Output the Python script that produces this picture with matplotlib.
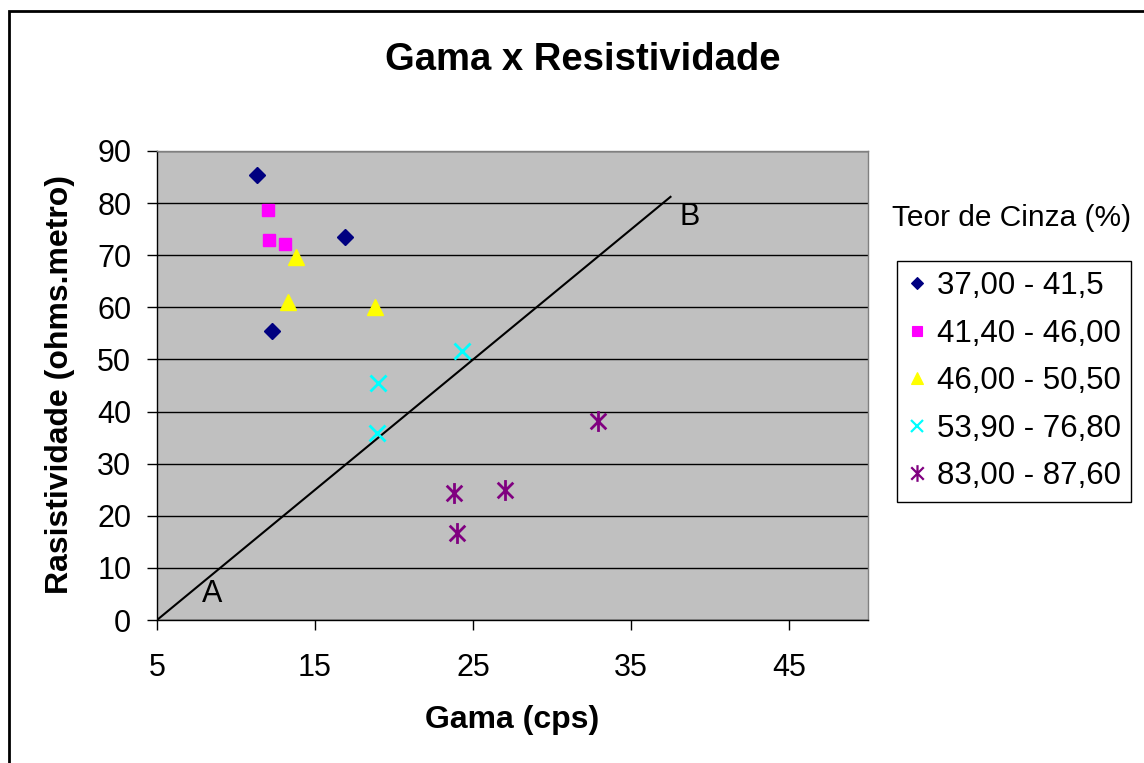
import matplotlib
matplotlib.use("Agg")
import matplotlib.pyplot as plt
from matplotlib.patches import Rectangle
from matplotlib.lines import Line2D
from matplotlib.path import Path

plt.rcParams['font.family'] = ['Liberation Sans', 'DejaVu Sans']

# Gamma (cps) vs resistivity (ohm.m), grouped by ash content range
series_labels = ["37,00 - 41,5", "41,40 - 46,00", "46,00 - 50,50",
                 "53,90 - 76,80", "83,00 - 87,60"]
gama_1 = [11.3, 16.9, 12.3]
resist_1 = [85.4, 73.5, 55.4]
gama_2 = [12.0, 12.1, 13.1]
resist_2 = [78.6, 72.9, 72.1]
gama_3 = [13.8, 13.3, 18.8]
resist_3 = [69.6, 61.0, 60.0]
gama_4 = [24.3, 19.0, 18.9]
resist_4 = [51.6, 45.4, 35.8]
gama_5 = [32.9, 23.8, 27.0, 24.0]
resist_5 = [38.1, 24.3, 24.9, 16.6]

# Reference line A -> B
line_x = [5.0, 37.5]
line_y = [0.0, 81.2]

x_ticks = [5, 15, 25, 35, 45]
y_ticks = [0, 10, 20, 30, 40, 50, 60, 70, 80, 90]

W, H = 1144, 763
fig = plt.figure(figsize=(W / 100, H / 100), dpi=100)
fig.patch.set_facecolor("white")

# chart outer border
fig.add_artist(Rectangle((8.5 / W, -0.1), 1.2, 1 - 11.5 / H + 0.1,
                         transform=fig.transFigure, fill=False,
                         edgecolor="black", linewidth=2.0))

ax = fig.add_axes([157 / W, 1 - 620 / H, (868 - 157) / W, (620 - 151) / H])
ax.set_facecolor("#C0C0C0")
for s in ax.spines.values():
    s.set_color("#808080")
    s.set_linewidth(1.0)
ax.spines["left"].set_color("black")
ax.spines["bottom"].set_color("black")

ax.set_xlim(5, 50)
ax.set_ylim(0, 90)
ax.set_xticks(x_ticks)
ax.set_yticks(y_ticks)
ax.tick_params(axis="both", direction="out", length=7.5, width=1.0,
               labelsize=22, color="black")
ax.tick_params(axis="y", pad=11)
ax.tick_params(axis="x", pad=16)
ax.yaxis.grid(True, color="black", linewidth=1.0)
ax.set_axisbelow(True)

ax.plot(line_x, line_y, color="black", linewidth=1.5, zorder=3)
ax.text(8.5, 5.0, "A", fontsize=22, ha="center", va="center", zorder=4)
ax.text(38.7, 77.3, "B", fontsize=22, ha="center", va="center", zorder=4)

# asterisk marker: an X with a vertical stroke
star = Path([(0, -1), (0, 1), (-0.75, -0.75), (0.75, 0.75),
             (-0.75, 0.75), (0.75, -0.75)],
            [Path.MOVETO, Path.LINETO, Path.MOVETO, Path.LINETO,
             Path.MOVETO, Path.LINETO])
styles = [
    dict(marker="D", color="#000080", ms=8, mew=1),
    dict(marker="s", color="#FF00FF", ms=9, mew=1),
    dict(marker="^", color="#FFFF00", ms=11, mew=1),
    dict(marker="x", color="#00FFFF", ms=11, mew=2),
    dict(marker=star, color="#800080", ms=15, mew=2),
]
data = [(gama_1, resist_1), (gama_2, resist_2), (gama_3, resist_3),
        (gama_4, resist_4), (gama_5, resist_5)]
for (gx, ry), st, lab in zip(data, styles, series_labels):
    ax.plot(gx, ry, linestyle="none", marker=st["marker"], color=st["color"],
            markersize=st["ms"], markeredgewidth=st["mew"], label=lab,
            zorder=5)

fig.text(583 / W, 1 - 60 / H, "Gama x Resistividade", fontsize=27.5,
         fontweight="bold", ha="center", va="center")
fig.text(512 / W, 1 - 720 / H, "Gama (cps)", fontsize=23,
         fontweight="bold", ha="center", va="center")
fig.text(60 / W, 1 - 384 / H, "Rasistividade (ohms.metro)", fontsize=23,
         fontweight="bold", ha="center", va="center", rotation=90)

fig.text(1012 / W, 1 - 218 / H, "Teor de Cinza (%)", fontsize=21.5,
         ha="center", va="center")

handles = []
for st, lab in zip(styles, series_labels):
    handles.append(Line2D([], [], linestyle="none", marker=st["marker"],
                          color=st["color"], markersize=st["ms"] * 0.8,
                          markeredgewidth=st["mew"] * 0.8, label=lab))
leg = fig.legend(handles=handles, loc="upper left",
                 bbox_to_anchor=(897 / W, 1 - 261 / H), borderaxespad=0,
                 fontsize=22.5, frameon=True, fancybox=False,
                 edgecolor="black", framealpha=1, labelspacing=0.56,
                 handlelength=0.6, handletextpad=0.35, borderpad=0.33)
leg.get_frame().set_linewidth(1.0)

fig.savefig("out.png", dpi=100)
